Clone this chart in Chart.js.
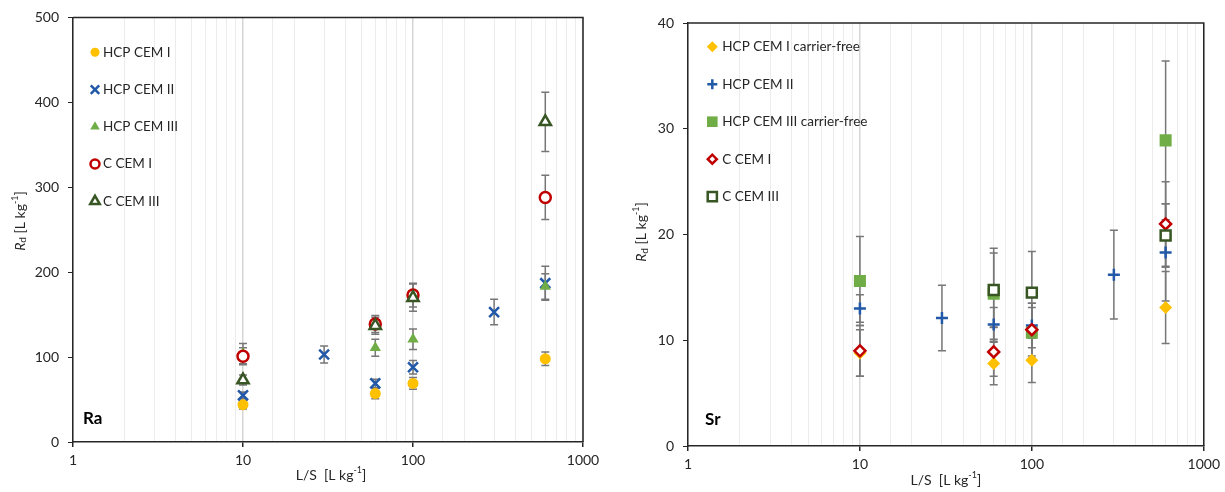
<!DOCTYPE html>
<html>
<head>
<meta charset="utf-8">
<script src="https://cdn.jsdelivr.net/npm/chart.js@4.4.1/dist/chart.umd.min.js"></script>
<style>
    html, body { margin: 0; padding: 0; background: #fff; }
    #wrap { position: relative; width: 1225px; height: 492px; }
    #raChart { position: absolute; left: 0; top: 0; }
    #srChart { position: absolute; left: 612px; top: 0; }
</style>
</head>
<body>
<div id="wrap">
    <canvas id="raChart" width="612" height="492"></canvas>
    <canvas id="srChart" width="613" height="492"></canvas>
</div>
<script>
// ---- Ra sorption (left panel) ----
const raNames = ['HCP CEM I', 'HCP CEM II', 'HCP CEM III', 'C CEM I', 'C CEM III'];
const raHcp1X = [10, 60, 100, 600];
const raHcp1Y = [44, 57, 69, 98];
const raHcp1Err = [5, 6, 7, 8];
const raHcp2X = [10, 30, 60, 100, 300, 600];
const raHcp2Y = [55, 103, 69, 88, 153, 187];
const raHcp2Err = [4, 10, 5, 8, 15, 20];
const raHcp3X = [10, 60, 100, 600];
const raHcp3Y = [104, 111, 121, 183];
const raHcp3Err = [12, 10, 12, 15];
const raC1X = [10, 60, 100, 600];
const raC1Y = [101, 139, 173, 288];
const raC1Err = [10, 10, 14, 26];
const raC3X = [10, 60, 100, 600];
const raC3Y = [73, 137, 170, 377];
const raC3Err = [6, 10, 16, 35];

// ---- Sr sorption (right panel) ----
const srNames = ['HCP CEM I carrier-free', 'HCP CEM II', 'HCP CEM III carrier-free', 'C CEM I', 'C CEM III'];
const srHcp1X = [10, 60, 100, 600];
const srHcp1Y = [8.8, 7.8, 8.1, 13.1];
const srHcp1Err = [2.2, 2.0, 2.1, 3.4];
const srHcp2X = [10, 30, 60, 100, 300, 600];
const srHcp2Y = [13.0, 12.1, 11.5, 11.4, 16.2, 18.3];
const srHcp2Err = [1.3, 3.1, 1.6, 2.1, 4.2, 4.6];
const srHcp3X = [10, 60, 100, 600];
const srHcp3Y = [15.6, 14.4, 10.7, 28.9];
const srHcp3Err = [4.2, 4.3, 2.4, 7.5];
const srC1X = [10, 60, 100, 600];
const srC1Y = [9.0, 8.9, 11.0, 21.0];
const srC1Err = [2.4, 2.3, 2.5, 4.0];
const srC3X = [60, 100, 600];
const srC3Y = [14.75, 14.5, 19.9];
const srC3Err = [3.5, 3.9, 3.0];

const xTicks = [1, 10, 100, 1000];

const FONT = 'Lato, "Liberation Sans", sans-serif';
const TEXT = '#262626';
const YELLOW = '#FFC000';
const BLUE = '#2158A8';
const GREEN = '#70AD47';
const RED = '#C00000';
const DARK = '#375623';

function pts(xs, ys) {
    return xs.map((x, i) => ({x: x, y: ys[i]}));
}

function series(label, xs, ys, errs, style, idx) {
    return {
        label: label,
        data: pts(xs, ys),
        errors: errs,
        order: 10 - idx,   // later series on top, like the original
        pointStyle: style.shape,
        pointRadius: style.r,
        pointHoverRadius: style.r,
        pointBorderWidth: style.lw,
        pointBackgroundColor: style.fill,
        pointBorderColor: style.stroke,
        legendRadius: style.lr,
        showLine: false
    };
}

function isMajor(v) {
    return xTicks.indexOf(v) >= 0;
}

function richText(ctx, parts, cx, cy, angle) {
    ctx.save();
    ctx.translate(cx, cy);
    ctx.rotate(angle);
    ctx.textBaseline = 'middle';
    ctx.textAlign = 'left';
    let w = 0;
    parts.forEach(p => { ctx.font = p.font; w += ctx.measureText(p.t).width; });
    let x = -w / 2;
    parts.forEach(p => {
        ctx.font = p.font;
        ctx.fillText(p.t, x, p.dy || 0);
        x += ctx.measureText(p.t).width;
    });
    ctx.restore();
}

const yTitleParts = [
    {t: 'R', font: 'italic 14px ' + FONT},
    {t: 'd', font: '10px ' + FONT, dy: 3},
    {t: ' [L kg', font: '14px ' + FONT},
    {t: '-1', font: '9px ' + FONT, dy: -5},
    {t: ']', font: '14px ' + FONT}
];
const xTitleParts = [
    {t: 'L/S  [L kg', font: '14px ' + FONT},
    {t: '-1', font: '9px ' + FONT, dy: -5},
    {t: ']', font: '14px ' + FONT}
];

const errorBars = {
    id: 'errorBars',
    beforeDatasetsDraw(chart) {
        const ctx = chart.ctx;
        const xs = chart.scales.x, ys = chart.scales.y;
        ctx.save();
        ctx.strokeStyle = '#777777';
        ctx.lineWidth = 1.5;
        chart.data.datasets.forEach(ds => {
            ds.data.forEach((p, i) => {
                const e = ds.errors[i];
                const px = xs.getPixelForValue(p.x);
                const top = ys.getPixelForValue(p.y + e);
                const bot = ys.getPixelForValue(p.y - e);
                ctx.beginPath();
                ctx.moveTo(px, top); ctx.lineTo(px, bot);
                ctx.moveTo(px - 4, top); ctx.lineTo(px + 4, top);
                ctx.moveTo(px - 4, bot); ctx.lineTo(px + 4, bot);
                ctx.stroke();
            });
        });
        ctx.restore();
    }
};

const decor = {
    id: 'decor',
    afterDraw(chart, args, o) {
        const ctx = chart.ctx;
        const a = chart.chartArea;
        ctx.save();
        // top and right frame
        ctx.strokeStyle = TEXT;
        ctx.lineWidth = 1.5;
        ctx.beginPath();
        ctx.moveTo(a.left, a.top); ctx.lineTo(a.right, a.top); ctx.lineTo(a.right, a.bottom);
        ctx.stroke();

        // legend inside the plot
        chart.data.datasets.forEach((ds, i) => {
            const y = o.legendY + i * o.legendDy;
            ctx.fillStyle = ds.pointBackgroundColor;
            ctx.strokeStyle = ds.pointBorderColor;
            ctx.lineWidth = ds.pointBorderWidth;
            Chart.helpers.drawPoint(ctx, {
                pointStyle: ds.pointStyle, radius: ds.legendRadius,
                rotation: 0, borderWidth: ds.pointBorderWidth
            }, o.legendX, y);
            ctx.fillStyle = TEXT;
            ctx.font = '13.5px ' + FONT;
            ctx.textBaseline = 'middle';
            ctx.textAlign = 'left';
            ctx.fillText(ds.label, o.textX, y);
        });

        // element tag
        ctx.fillStyle = '#000';
        ctx.font = 'bold 17px ' + FONT;
        ctx.textBaseline = 'middle';
        ctx.fillText(o.tag, o.tagX, o.tagY);

        // axis titles
        ctx.fillStyle = TEXT;
        richText(ctx, yTitleParts, o.yTitleX, o.yTitleY, -Math.PI / 2);
        richText(ctx, xTitleParts, (a.left + a.right) / 2 + o.xTitleDx, o.xTitleY, 0);
        ctx.restore();
    }
};

function makeChart(id, datasets, yMax, yStep, o) {
    return new Chart(document.getElementById(id), {
        type: 'scatter',
        data: {datasets: datasets},
        options: {
            responsive: false,
            animation: false,
            events: [],
            layout: {padding: {left: 0, top: o.padTop, right: o.padRight, bottom: 0}},
            plugins: {
                legend: {display: false},
                tooltip: {enabled: false},
                decor: o
            },
            scales: {
                x: {
                    type: 'logarithmic',
                    min: 1,
                    max: 1000,
                    afterFit(scale) { scale.height = o.xAxisH; },
                    border: {color: TEXT, width: 1.5},
                    grid: {
                        color: c => isMajor(c.tick.value) ? '#d6d6d6' : '#ececec',
                        lineWidth: c => isMajor(c.tick.value) ? 1.5 : 1,
                        tickColor: c => isMajor(c.tick.value) ? TEXT : 'rgba(0,0,0,0)',
                        tickLength: 5
                    },
                    ticks: {
                        autoSkip: false,
                        maxRotation: 0,
                        padding: 5,
                        color: TEXT,
                        font: {family: FONT, size: 14},
                        callback: v => isMajor(v) ? String(v) : ''
                    }
                },
                y: {
                    min: 0,
                    max: yMax,
                    afterFit(scale) { scale.width = o.yAxisW; },
                    border: {color: TEXT, width: 1.5},
                    grid: {drawOnChartArea: false, tickColor: TEXT, tickLength: 5},
                    ticks: {
                        stepSize: yStep,
                        padding: 9,
                        color: TEXT,
                        font: {family: FONT, size: 14}
                    }
                }
            }
        },
        plugins: [errorBars, decor]
    });
}

const sYellowDot = {shape: 'circle', r: 5.5, lr: 4.5, lw: 0, fill: YELLOW, stroke: YELLOW};
const sBlueX = {shape: 'crossRot', r: 7, lr: 6, lw: 2.5, fill: BLUE, stroke: BLUE};
const sGreenTri = {shape: 'triangle', r: 6.5, lr: 5.5, lw: 0, fill: GREEN, stroke: GREEN};
const sRedRing = {shape: 'circle', r: 5.5, lr: 4.5, lw: 2.5, fill: '#fff', stroke: RED};
const sDarkTri = {shape: 'triangle', r: 6.5, lr: 5.5, lw: 2.5, fill: '#fff', stroke: DARK};

makeChart('raChart', [
    series(raNames[0], raHcp1X, raHcp1Y, raHcp1Err, sYellowDot, 0),
    series(raNames[1], raHcp2X, raHcp2Y, raHcp2Err, sBlueX, 1),
    series(raNames[2], raHcp3X, raHcp3Y, raHcp3Err, sGreenTri, 2),
    series(raNames[3], raC1X, raC1Y, raC1Err, sRedRing, 3),
    series(raNames[4], raC3X, raC3Y, raC3Err, sDarkTri, 4)
], 500, 100, {
    padTop: 17, padRight: 29, yAxisW: 73, xAxisH: 50,
    legendX: 95, legendY: 52.3, legendDy: 37.25, textX: 103,
    tag: 'Ra', tagX: 83, tagY: 419,
    yTitleX: 20, yTitleY: 221, xTitleDx: 3, xTitleY: 475
});

const sYellowDia = {shape: 'rectRot', r: 6.5, lr: 5.5, lw: 0, fill: YELLOW, stroke: YELLOW};
const sBluePlus = {shape: 'cross', r: 6, lr: 5, lw: 2.5, fill: BLUE, stroke: BLUE};
const sGreenSq = {shape: 'rect', r: 8.5, lr: 7.5, lw: 0, fill: GREEN, stroke: GREEN};
const sRedDia = {shape: 'rectRot', r: 5.5, lr: 4.5, lw: 2.5, fill: '#fff', stroke: RED};
const sDarkSq = {shape: 'rect', r: 7, lr: 6.5, lw: 2.5, fill: '#fff', stroke: DARK};

makeChart('srChart', [
    series(srNames[0], srHcp1X, srHcp1Y, srHcp1Err, sYellowDia, 0),
    series(srNames[1], srHcp2X, srHcp2Y, srHcp2Err, sBluePlus, 1),
    series(srNames[2], srHcp3X, srHcp3Y, srHcp3Err, sGreenSq, 2),
    series(srNames[3], srC1X, srC1Y, srC1Err, sRedDia, 3),
    series(srNames[4], srC3X, srC3Y, srC3Err, sDarkSq, 4)
], 40, 10, {
    padTop: 23, padRight: 18, yAxisW: 76, xAxisH: 46,
    legendX: 100.3, legendY: 46.7, legendDy: 37.5, textX: 110.3,
    tag: 'Sr', tagX: 93, tagY: 420,
    yTitleX: 29.5, yTitleY: 232, xTitleDx: 0, xTitleY: 480
});
</script>
</body>
</html>
